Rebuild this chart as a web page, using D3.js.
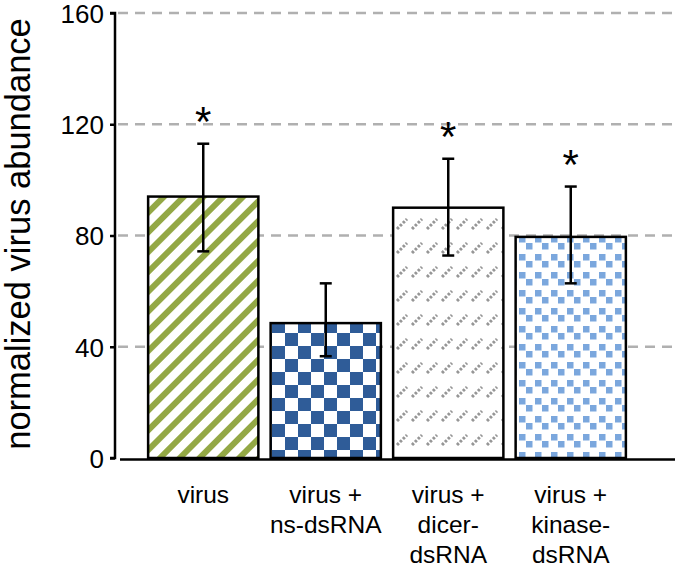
<!DOCTYPE html>
<html>
<head>
<meta charset="utf-8">
<script src="https://cdn.jsdelivr.net/npm/d3@7"></script>
<style>
  html, body { margin: 0; padding: 0; background: #fff; }
  svg { display: block; }
  text { font-family: "Liberation Sans", Arial, sans-serif; fill: #000; }
</style>
</head>
<body>
<svg id="chart" width="675" height="567"></svg>
<script>
// ---- data ----
const categories = ["virus", "virus +\nns-dsRNA", "virus +\ndicer-\ndsRNA", "virus +\nkinase-\ndsRNA"];
const values = [94, 48.5, 90, 79.5];
const errHigh = [113, 62.8, 107.6, 97.6];
const errLow = [74.3, 36.6, 72.8, 62.8];
const significant = [true, false, true, true];
const yTicks = [0, 40, 80, 120, 160];
const yTitle = "normalized virus abundance";
const patternIds = ["p-stripes", "p-checker", "p-dashes", "p-squares"];

// ---- setup ----
const svg = d3.select("#chart");
const W = 675, H = 567;

const y = d3.scaleLinear().domain([0, 160]).range([458, 13]);
const x = d3.scaleBand().domain(d3.range(categories.length)).range([142, 632])
  .paddingInner(0.1).paddingOuter(0.05);

// ---- patterns ----
const defs = svg.append("defs");
// green diagonal stripes
const p1 = defs.append("pattern").attr("id", "p-stripes").attr("patternUnits", "userSpaceOnUse")
  .attr("width", 14).attr("height", 14).attr("patternTransform", "rotate(45)");
p1.append("rect").attr("width", 14).attr("height", 14).attr("fill", "#fff");
p1.append("rect").attr("x", 0).attr("width", 6).attr("height", 14).attr("fill", "#93a845");
// blue checker
const p2 = defs.append("pattern").attr("id", "p-checker").attr("patternUnits", "userSpaceOnUse")
  .attr("width", 26).attr("height", 26).attr("x", 272).attr("y", 8);
p2.append("rect").attr("width", 26).attr("height", 26).attr("fill", "#fff");
p2.append("rect").attr("x", 0).attr("y", 0).attr("width", 13).attr("height", 13).attr("fill", "#2f5c98");
p2.append("rect").attr("x", 13).attr("y", 13).attr("width", 13).attr("height", 13).attr("fill", "#2f5c98");
// gray dotted diagonal dashes
const p3 = defs.append("pattern").attr("id", "p-dashes").attr("patternUnits", "userSpaceOnUse")
  .attr("width", 15).attr("height", 24).attr("x", 395).attr("y", 0);
p3.append("rect").attr("width", 15).attr("height", 24).attr("fill", "#fff");
p3.append("line").attr("x1", 2).attr("y1", 13).attr("x2", 12).attr("y2", 3)
  .attr("stroke", "#969696").attr("stroke-width", 3).attr("stroke-dasharray", "2.6,1.6");
// light blue squares
const p4 = defs.append("pattern").attr("id", "p-squares").attr("patternUnits", "userSpaceOnUse")
  .attr("width", 16).attr("height", 18).attr("x", 518).attr("y", 0);
p4.append("rect").attr("width", 16).attr("height", 18).attr("fill", "#fff");
p4.append("rect").attr("x", 1).attr("y", 2).attr("width", 6.5).attr("height", 6.5).attr("fill", "#7ba7dd");
p4.append("rect").attr("x", 8).attr("y", 9).attr("width", 6.5).attr("height", 6.5).attr("fill", "#7ba7dd");

// ---- gridlines ----
svg.append("g").selectAll("line").data(yTicks.filter(d => d > 0)).join("line")
  .attr("x1", 118).attr("x2", W)
  .attr("y1", d => y(d)).attr("y2", d => y(d))
  .attr("stroke", "#b0b0b0").attr("stroke-width", 2.5).attr("stroke-dasharray", "10,7");

// ---- y axis ----
const yAxis = d3.axisLeft(y).tickValues(yTicks).tickSize(5).tickPadding(6).tickFormat(d3.format("d"));
const gy = svg.append("g").attr("transform", "translate(115,0)").call(yAxis);
gy.select(".domain").attr("stroke", "#000").attr("stroke-width", 2.5).attr("d", `M-5,${y(160)}H0V${y(0)}H-5`);
gy.selectAll(".tick line").attr("stroke", "#000").attr("stroke-width", 2.5);
gy.selectAll(".tick text").attr("font-size", 26).attr("font-family", "Liberation Sans, Arial, sans-serif")
  .attr("fill", "#000").attr("dy", "0.36em");

// ---- bars ----
svg.append("g").selectAll("rect").data(values).join("rect")
  .attr("x", (d, i) => x(i))
  .attr("y", d => y(d))
  .attr("width", x.bandwidth())
  .attr("height", d => y(0) - y(d))
  .attr("fill", (d, i) => `url(#${patternIds[i]})`)
  .attr("stroke", "#000").attr("stroke-width", 2.5);

// ---- x axis line ----
svg.append("line").attr("x1", 120).attr("x2", W).attr("y1", 459.5).attr("y2", 459.5)
  .attr("stroke", "#000").attr("stroke-width", 2.5);

// ---- error bars ----
const eg = svg.append("g").attr("stroke", "#000").attr("stroke-width", 2.5);
values.forEach((v, i) => {
  const cx = x(i) + x.bandwidth() / 2;
  eg.append("line").attr("x1", cx).attr("x2", cx).attr("y1", y(errHigh[i])).attr("y2", y(errLow[i]));
  eg.append("line").attr("x1", cx - 6).attr("x2", cx + 6).attr("y1", y(errHigh[i])).attr("y2", y(errHigh[i]));
  eg.append("line").attr("x1", cx - 6).attr("x2", cx + 6).attr("y1", y(errLow[i])).attr("y2", y(errLow[i]));
});

// ---- significance stars ----
svg.append("g").selectAll("text").data(values.map((v, i) => i).filter(i => significant[i])).join("text")
  .attr("x", i => x(i) + x.bandwidth() / 2)
  .attr("y", i => y(errHigh[i]) - 8)
  .attr("text-anchor", "middle").attr("font-size", 42)
  .text("*");

// ---- x labels ----
const xl = svg.append("g");
categories.forEach((c, i) => {
  const t = xl.append("text").attr("text-anchor", "middle").attr("font-size", 24.5)
    .attr("x", x(i) + x.bandwidth() / 2).attr("y", 503);
  c.split("\n").forEach((ln, k) => {
    t.append("tspan").attr("x", x(i) + x.bandwidth() / 2).attr("dy", k === 0 ? 0 : 30).text(ln);
  });
});

// ---- y title ----
svg.append("text").attr("transform", "translate(30,234) rotate(-90)")
  .attr("text-anchor", "middle").attr("font-size", 34.5).text(yTitle);
</script>
</body>
</html>
